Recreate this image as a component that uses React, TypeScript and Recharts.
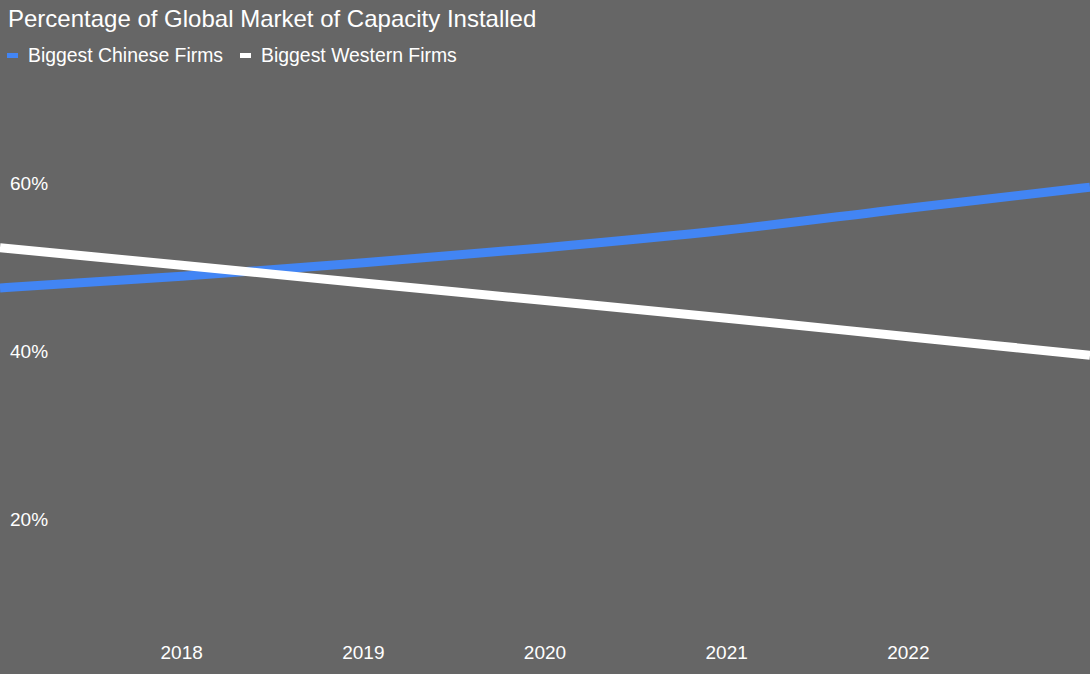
import React from 'react';
import { LineChart, Line, XAxis, YAxis } from 'recharts';

const years = [2017, 2018, 2019, 2020, 2021, 2022, 2023];
const chineseFirms = [47.5, 48.9, 50.5, 52.3, 54.4, 57.0, 59.5];
const westernFirms = [52.3, 50.2, 48.1, 46.0, 43.9, 41.7, 39.5];
const yearTicks = [2018, 2019, 2020, 2021, 2022];
const percentTicks = [20, 40, 60];

const FONT = '"Liberation Sans", Arial, sans-serif';
const BG = '#666666';
const BLUE = '#4285f4';

const series = [
  { key: 'chinese', name: 'Biggest Chinese Firms', color: BLUE },
  { key: 'western', name: 'Biggest Western Firms', color: '#ffffff' },
];

const data = years.map((year, i) => ({
  year,
  chinese: chineseFirms[i],
  western: westernFirms[i],
}));

const YTick = (props: any) => {
  const { y, payload } = props;
  return (
    <text x={10} y={y} fill="#fff" fontSize={19} fontFamily={FONT} textAnchor="start" dominantBaseline="central">
      {payload.value}%
    </text>
  );
};

const XTick = (props: any) => {
  const { x, payload } = props;
  return (
    <text x={x} y={652} fill="#fff" fontSize={19} fontFamily={FONT} textAnchor="middle" dominantBaseline="central">
      {payload.value}
    </text>
  );
};

const App: React.FC = () => {
  return (
    <div style={{ position: 'fixed', top: 0, left: 0, width: 1090, height: 674, background: BG, overflow: 'hidden' }}>
      <div style={{ position: 'absolute', top: 5, left: 8, color: '#fff', fontFamily: FONT, fontSize: 24, zIndex: 2 }}>
        Percentage of Global Market of Capacity Installed
      </div>
      <div
        style={{
          position: 'absolute', top: 44, left: 7, display: 'flex', alignItems: 'center',
          fontFamily: FONT, fontSize: 19.4, color: '#fff', zIndex: 2,
        }}
      >
        {series.map((s) => (
          <div key={s.key} style={{ display: 'flex', alignItems: 'center', marginRight: 17 }}>
            <span style={{ display: 'inline-block', width: 11, height: 5, background: s.color, marginRight: 10 }} />
            <span>{s.name}</span>
          </div>
        ))}
      </div>
      <LineChart width={1090} height={700} data={data} margin={{ top: 15, right: 0, bottom: 13, left: 0 }}>
        <XAxis
          dataKey="year"
          type="number"
          domain={[2017, 2023]}
          ticks={yearTicks}
          mirror
          axisLine={false}
          tickLine={false}
          tick={<XTick />}
        />
        <YAxis
          type="number"
          domain={[0, 80]}
          ticks={percentTicks}
          mirror
          axisLine={false}
          tickLine={false}
          tick={<YTick />}
        />
        {series.map((s) => (
          <Line
            key={s.key}
            type="monotone"
            dataKey={s.key}
            name={s.name}
            stroke={s.color}
            strokeWidth={9}
            dot={false}
            isAnimationActive={false}
          />
        ))}
      </LineChart>
    </div>
  );
};

export default App;
